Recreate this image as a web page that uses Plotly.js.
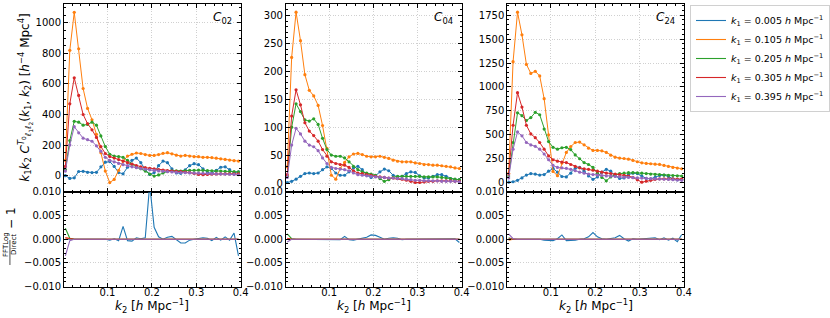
<!DOCTYPE html>
<html><head><meta charset="utf-8">
<script src="https://cdn.plot.ly/plotly-3.0.1.min.js"></script>
<style>html,body{margin:0;padding:0;background:#fff}#chart{width:830px;height:318px}</style>
</head><body><div id="chart"></div>
<script>
// k2 sampling [h/Mpc]
const k2 = [0.005,0.015,0.025,0.035,0.045,0.055,0.065,0.075,0.085,0.095,
            0.105,0.115,0.125,0.135,0.145,0.155,0.165,0.175,0.185,0.195,
            0.205,0.215,0.225,0.235,0.245,0.255,0.265,0.275,0.285,0.295,
            0.305,0.315,0.325,0.335,0.345,0.355,0.365,0.375,0.385,0.395];
const k1Values = ['0.005','0.105','0.205','0.305','0.395'];
const colors = ['#1f77b4','#ff7f0e','#2ca02c','#d62728','#9467bd'];
const panelLabels = ['02','04','24'];

// ---- C02 : k1 k2 C (top panel) ----
const c02_k005 = [0,-18,-14,27,28,22,20,22,58,88, 92,60,20,12,55,100,115,85,40,8, 20,65,95,85,45,18,15,38,65,78, 72,45,20,15,35,55,58,40,18,25];
const c02_k105 = [100,820,1068,830,570,440,365,270,150,30, -45,-25,35,95,128,140,148,145,138,132, 132,138,146,150,143,134,128,132,128,124, 124,120,120,118,114,110,106,102,98,95];
const c02_k205 = [40,230,355,350,330,335,350,330,260,190, 140,128,125,120,100,75,55,45,30,10, -3,5,18,28,32,32,30,32,34,35, 36,35,33,32,30,30,28,27,26,25];
const c02_k305 = [60,470,640,525,400,340,300,250,190,145, 125,115,105,95,85,75,65,58,52,48, 44,40,36,33,30,28,26,24,20,14, 8,6,8,10,11,12,12,12,11,11];
const c02_k395 = [30,200,320,280,245,235,225,195,160,120, 100,90,80,72,65,58,52,46,42,38, 34,31,28,26,24,22,20,19,18,17, 16,15,14,13,12,11,10,9,8,6];

// ---- C04 ----
const c04_k005 = [1,3,7,12,17,18,17,18,24,29, 26,18,14,14,20,27,30,24,14,10, 13,20,25,22,14,11,12,17,20,19, 13,9,9,12,15,15,12,8,6,6];
const c04_k105 = [29,225,306,255,194,166,156,139,103,62, 14,7,26,37,47,52,53,51,48,47, 47,48,46,44,41,39,38,38,38,36, 35,33,33,32,32,31,30,29,27,26];
const c04_k205 = [12,100,142,128,113,111,115,105,80,60, 50,48,48,45,38,30,24,20,18,16, 14,8,3,6,10,12,12,12,12,12, 12,11,11,11,11,10,9,8,7,6];
const c04_k305 = [15,120,167,140,108,93,85,75,60,48, 38,35,33,32,28,22,18,17,15,14, 12,11,10,9,9,8,7,5,3,1, 1,2,3,3,4,4,4,4,3,3];
const c04_k395 = [10,68,98,88,75,68,65,58,45,35, 28,26,25,24,22,18,15,14,13,12, 11,10,10,9,9,8,8,7,6,5, 5,4,4,4,4,3,3,3,3,2];

// ---- C24 ----
const c24_k005 = [5,10,25,50,80,95,90,80,85,120, 150,110,65,60,100,150,160,120,70,35, 60,110,140,120,70,45,50,85,100,95, 70,45,40,55,75,80,65,40,30,35];
const c24_k105 = [100,1264,1781,1545,1236,1142,1163,1115,878,500, 118,73,205,316,378,420,424,396,361,337, 337,333,316,288,267,257,253,246,233,219, 208,201,198,194,191,180,170,160,153,146];
const c24_k205 = [70,420,730,700,650,680,735,710,560,430, 370,350,365,370,345,290,250,210,190,160, 100,55,20,60,85,95,100,105,105,103, 100,95,90,88,85,80,78,75,72,70];
const c24_k305 = [90,600,940,790,600,510,470,420,350,280, 240,225,215,210,190,170,155,145,140,130, 120,110,100,95,90,85,78,70,55,30, 5,15,25,35,40,40,40,40,38,38];
const c24_k395 = [50,350,530,490,420,395,380,350,300,240, 180,160,155,150,140,125,110,100,90,85, 80,75,70,68,65,62,58,55,52,50, 48,45,42,40,38,36,34,32,28,25];

// ---- FFTLog/Direct - 1 (bottom panels) ----
const r02_k005 = [0,0,0,0,0,0,0,0,0,0, -0.0002,0.0001,-0.0003,0.0027,-0.0003,-0.0004,0.0003,0.0001,0.0003,0.0115, 0.0025,0.0005,0.0,0.0004,0.0006,-0.0002,-0.0008,-0.0008,-0.0002,0.0, 0.0001,0.0003,0.0002,-0.0003,0.0004,-0.0002,0.0005,-0.0002,0.0013,-0.0035];
const r02_k105 = [0.0003,0.0001,0,0,0,0,0,0,0,0, 0,0,0,0,0,0,0,0,0,0, 0,0,0,0,0,0,0,0,0,0, 0,0,0,0,0,0,0,0,0,0];
const r02_k205 = [0.0023,0.0002,0,0,0,0,0,0,0,0, 0,0,0,0,0,0,0,0,0,0, 0,0,0,0,0,0,0,0,0,0, 0,0,0,0,0,0,0,0,0,0];
const r02_k305 = [0.0003,0.0001,0,0,0,0,0,0,0,0, 0,0,0,0,0,0,0,0,0,0, 0,0,0,0,0,0,0,0,0,0, 0,0,0,0,0,0,0,0,0,0];
const r02_k395 = [-0.0035,-0.0003,0,0,0,0,0,0,0,0, 0,0,0,0,0,0,0,0,0,0, 0,0,0,0,0,0,0,0,0,0, 0,0,0,0,0,0,0,0,0,0];

const r04_k005 = [0,0,0,0,0,0,0,0,0,0, 0,0,-0.0001,0.0006,-0.0001,-0.0002,0,0.0001,0.0004,0.0009, 0.0008,0.0004,0.0,0.0002,0.0003,0.0002,-0.0001,0,0,0.0001, 0,0,0.0001,0,0,0.0001,0,0,0.0001,-0.0007];
const r04_k105 = [0.0001,0,0,0,0,0,0,0,0,0, 0,0,0,0,0,0,0,0,0,0, 0,0,0,0,0,0,0,0,0,0, 0,0,0,0,0,0,0,0,0,0];
const r04_k205 = [0.0011,0.0001,0,0,0,0,0,0,0,0, 0,0,0,0,0,0,0,0,0,0, 0,0,0,0,0,0,0,0,0,0, 0,0,0,0,0,0,0,0,0,0];
const r04_k305 = [0.0002,0,0,0,0,0,0,0,0,0, 0,0,0,0,0,0,0,0,0,0, 0,0,0,0,0,0,0,0,0,0, 0,0,0,0,0,0,0,0,0,0];
const r04_k395 = [-0.0006,0,0,0,0,0,0,0,0,0, 0,0,0,0,0,0,0,0,0,0, 0,0,0,0,0,0,0,0,0,0, 0,0,0,0,0,0,0,0,0,0];

const r24_k005 = [0,0,0,0,0,0,0,0,-0.0002,-0.0003, -0.0003,0.0001,0.0009,-0.0003,-0.0003,-0.0002,0,0.0001,0.0005,0.0014, 0.0005,0.0001,0,0.0002,0.0003,0.0008,0.0001,-0.0004,0.0001,0, 0.0001,0.0002,0.0002,0.0003,-0.0001,0.0003,-0.0002,0.0002,-0.0005,0.0010];
const r24_k105 = [-0.0002,0,0,0,0,0,0,0,0,0, 0,0,0,0,0,0,0,0,0,0, 0,0,0,0,0,0,0,0,0,0, 0,0,0,0,0,0,0,0,0,0];
const r24_k205 = [0.0003,0,0,0,0,0,0,0,0,0, 0,0,0,0,0,0,0,0,0,0, 0,0,0,0,0,0,0,0,0,0, 0,0,0,0,0,0,0,0,0,0];
const r24_k305 = [0.0001,0,0,0,0,0,0,0,0,0, 0,0,0,0,0,0,0,0,0,0, 0,0,0,0,0,0,0,0,0,0, 0,0,0,0,0,0,0,0,0,0];
const r24_k395 = [0.0011,0.0001,0,0,0,0,0,0,0,0, 0,0,0,0,0,0,0,0,0,0, 0,0,0,0,0,0,0,0,0,0, 0,0,0,0,0,0,0,0,0,0];

const topData = [
  [c02_k005,c02_k105,c02_k205,c02_k305,c02_k395],
  [c04_k005,c04_k105,c04_k205,c04_k305,c04_k395],
  [c24_k005,c24_k105,c24_k205,c24_k305,c24_k395]
];
const botData = [
  [r02_k005,r02_k105,r02_k205,r02_k305,r02_k395],
  [r04_k005,r04_k105,r04_k205,r04_k305,r04_k395],
  [r24_k005,r24_k105,r24_k205,r24_k305,r24_k395]
];

// ---- layout geometry (px) ----
const W = 830, H = 318;
const colPx = [[64.5,242.5],[288,465],[511,689]];
const topPx = [3.5,191.7], botPx = [191.7,286.7];
const topRanges = [[-105,1126],[-15.5,321.5],[-94,1872]];
const topDticks = [200,50,250];
const topMinor = [50,10,50];
const FONT = 'DejaVu Sans, sans-serif';
const fx = p => p / W;
const fy = p => (H - p) / H;

const traces = [];
for (let p = 0; p < 3; p++) {
  const xt = 'x' + (2*p+1 === 1 ? '' : (2*p+1));
  const yt = 'y' + (2*p+1 === 1 ? '' : (2*p+1));
  const xb = 'x' + (2*p+2), yb = 'y' + (2*p+2);
  for (let s = 0; s < 5; s++) {
    traces.push({
      x: k2, y: topData[p][s], xaxis: xt, yaxis: yt, type: 'scatter', mode: 'lines+markers',
      line: {color: colors[s], width: 1}, marker: {color: colors[s], size: 3.2},
      showlegend: false, hoverinfo: 'skip'
    });
  }
  for (let s = 0; s < 5; s++) {
    traces.push({
      x: k2, y: botData[p][s], xaxis: xb, yaxis: yb, type: 'scatter', mode: 'lines',
      line: {color: colors[s], width: 1.1},
      name: '<i>k</i><sub>1</sub> = ' + k1Values[s] + ' <i>h</i> Mpc<sup>−1</sup>',
      showlegend: p === 0, hoverinfo: 'skip'
    });
  }
}

function axisBase() {
  return {
    showline: true, linecolor: 'black', linewidth: 1, mirror: 'allticks',
    ticks: 'inside', ticklen: 4, tickwidth: 1, tickcolor: 'black',
    showgrid: true, gridcolor: '#c4c4c4', gridwidth: 0.8, griddash: '1px,1.6px',
    zeroline: false, tickfont: {family: FONT, size: 10, color: 'black'}
  };
}

const layout = {
  width: W, height: H, margin: {l: 0, r: 0, t: 0, b: 0},
  paper_bgcolor: 'white', plot_bgcolor: 'white',
  font: {family: FONT, size: 10, color: 'black'},
  showlegend: true,
  legend: {
    x: fx(695), y: fy(5), xanchor: 'left', yanchor: 'top',
    bgcolor: 'white', bordercolor: '#d0d0d0', borderwidth: 1,
    font: {family: FONT, size: 9.5, color: 'black'}, itemwidth: 30
  },
  annotations: [], shapes: []
};

for (let p = 0; p < 3; p++) {
  const it = 2*p+1, ib = 2*p+2;
  const kt = it === 1 ? '' : String(it);
  const dom = [fx(colPx[p][0]), fx(colPx[p][1])];
  layout['xaxis' + kt] = Object.assign(axisBase(), {
    domain: dom, anchor: 'y' + kt, range: [0.002, 0.4001], dtick: 0.1, tick0: 0,
    showticklabels: false,
    minor: {dtick: 0.02, tick0: 0, ticks: 'inside', ticklen: 2, tickcolor: 'black', showgrid: false}
  });
  layout['yaxis' + kt] = Object.assign(axisBase(), {
    domain: [fy(topPx[1]), fy(topPx[0])], anchor: 'x' + kt,
    range: topRanges[p], dtick: topDticks[p], tick0: 0,
    minor: {dtick: topMinor[p], tick0: 0, ticks: 'inside', ticklen: 2, tickcolor: 'black', showgrid: false}
  });
  layout['xaxis' + ib] = Object.assign(axisBase(), {
    domain: dom, anchor: 'y' + ib, range: [0.002, 0.4001], dtick: 0.1, tick0: 0,
    tickformat: '.1f', ticklabelstandoff: -4,
    minor: {dtick: 0.02, tick0: 0, ticks: 'inside', ticklen: 2, tickcolor: 'black', showgrid: false}
  });
  layout['yaxis' + ib] = Object.assign(axisBase(), {
    domain: [fy(botPx[1]), fy(botPx[0])], anchor: 'x' + ib,
    range: [-0.01, 0.01], dtick: 0.005, tick0: 0, tickformat: '.3f',
    minor: {dtick: 0.001, tick0: 0, ticks: 'inside', ticklen: 2, tickcolor: 'black', showgrid: false}
  });
  // x-axis title
  layout.annotations.push({
    xref: 'paper', yref: 'paper', x: fx((colPx[p][0] + colPx[p][1]) / 2), y: fy(306),
    xanchor: 'center', yanchor: 'middle', showarrow: false,
    text: '<i>k</i><sub>2</sub> [<i>h</i> Mpc<sup>−1</sup>]',
    font: {family: FONT, size: 12, color: 'black'}
  });
  // panel label
  layout.annotations.push({
    xref: 'paper', yref: 'paper', x: fx(colPx[p][1] - 7), y: fy(18),
    xanchor: 'right', yanchor: 'middle', showarrow: false,
    text: '<i>C</i><sub>' + panelLabels[p] + '</sub>',
    font: {family: FONT, size: 12, color: 'black'}
  });
}

// y-axis titles
layout.annotations.push({
  xref: 'paper', yref: 'paper', x: fx(25), y: fy(97), xanchor: 'center', yanchor: 'middle',
  showarrow: false, textangle: -90,
  text: '<i>k</i><sub>1</sub><i>k</i><sub>2</sub> <i>C</i><sup><i>T</i><sub>0</sub></sup><sub><i>ℓ</i><sub>1</sub><i>ℓ</i><sub>2</sub></sub>(<i>k</i><sub>1</sub>, <i>k</i><sub>2</sub>) [<i>h</i><sup>−4</sup> Mpc<sup>4</sup>]',
  font: {family: FONT, size: 12, color: 'black'}
});
layout.annotations.push({
  xref: 'paper', yref: 'paper', x: fx(6), y: fy(244), xanchor: 'center', yanchor: 'middle',
  showarrow: false, textangle: -90, text: 'FFTLog',
  font: {family: FONT, size: 7, color: 'black'}
});
layout.annotations.push({
  xref: 'paper', yref: 'paper', x: fx(14), y: fy(244), xanchor: 'center', yanchor: 'middle',
  showarrow: false, textangle: -90, text: 'Direct',
  font: {family: FONT, size: 7, color: 'black'}
});
layout.annotations.push({
  xref: 'paper', yref: 'paper', x: fx(11), y: fy(218), xanchor: 'center', yanchor: 'middle',
  showarrow: false, textangle: -90, text: '− 1',
  font: {family: FONT, size: 12, color: 'black'}
});
layout.shapes.push({
  type: 'line', xref: 'paper', yref: 'paper',
  x0: fx(10), x1: fx(10), y0: fy(240), y1: fy(265),
  line: {color: 'black', width: 0.7}
});

Plotly.newPlot('chart', traces, layout, {staticPlot: true, displayModeBar: false});
</script>
</body></html>
